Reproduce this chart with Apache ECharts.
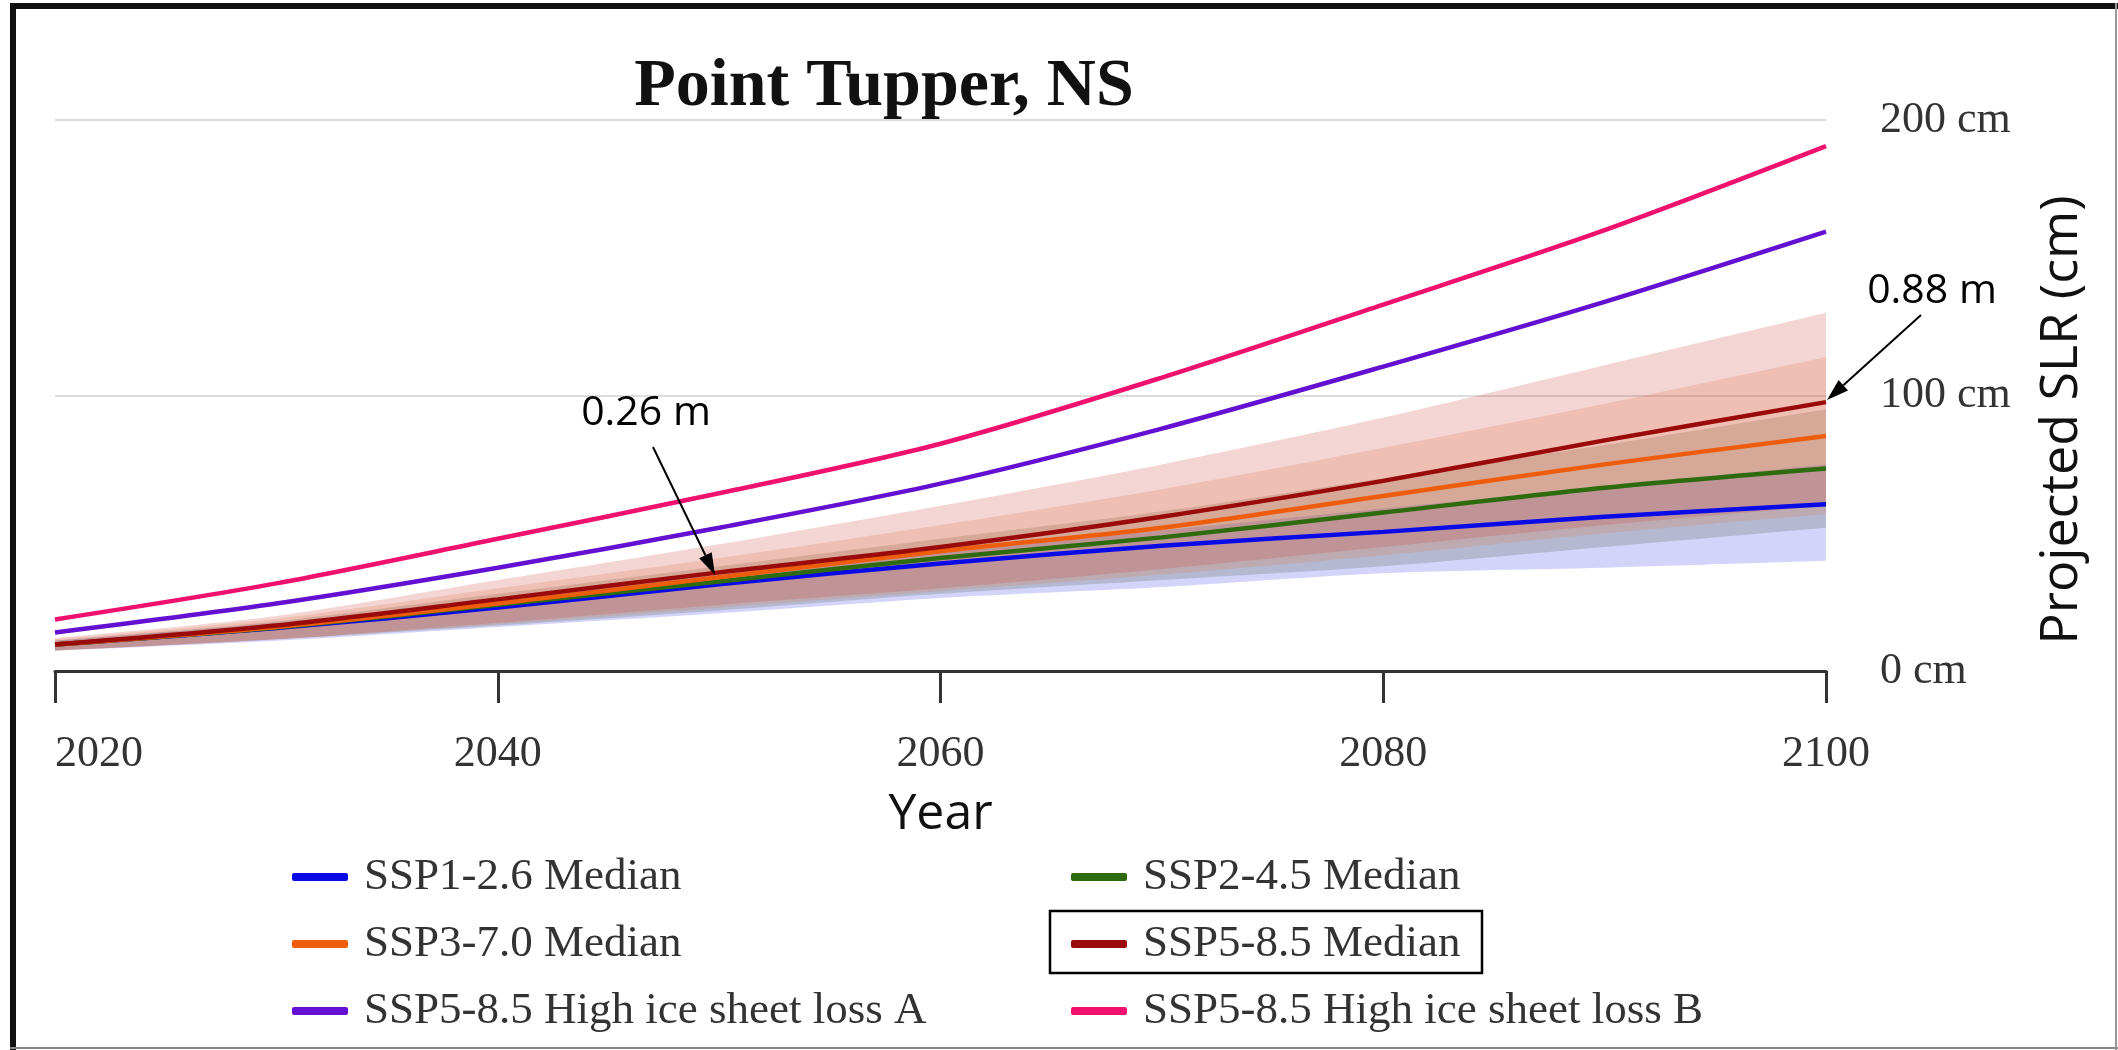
<!DOCTYPE html>
<html>
<head>
<meta charset="utf-8">
<script src="https://cdn.jsdelivr.net/npm/echarts@6/dist/echarts.min.js"></script>
<style>html,body{margin:0;padding:0;background:#fff;}#c{width:2118px;height:1050px;}</style>
</head>
<body>
<div id="c"></div>
<script>
const years = ['2020', '2030', '2040', '2050', '2060', '2070', '2080', '2090', '2100'];
const ssp126 = [9.6, 15.6, 23, 31.5, 39, 45.5, 50.5, 56, 60.5];
const ssp245 = [9.6, 15.8, 24, 32.5, 41, 48.5, 57.5, 66.5, 73.5];
const ssp370 = [9.6, 16, 24.5, 34, 43.5, 52, 63.5, 75, 85.3];
const ssp585 = [9.6, 16.5, 26, 35.8, 45, 56, 69, 83.7, 97.6];
const highA = [14, 24.5, 37.5, 52, 68, 88, 110.5, 134, 159.5];
const highB = [18.7, 31.8, 48, 64.5, 82.5, 106.5, 133, 160, 190.5];

const ssp126Low = [7.4, 11, 16, 21, 26.5, 30.5, 35.5, 37.5, 40];
const ssp126High = [11, 17.5, 26, 35, 43, 51, 59, 67, 75];
const ssp245Low = [7.4, 11.5, 16.5, 22, 28, 33, 38, 45, 52];
const ssp245High = [11, 18, 28, 38, 48, 58, 70, 82, 95];
const ssp370Low = [7.4, 11.5, 17, 23, 29, 35, 42, 50, 57];
const ssp370High = [11.5, 19, 30, 41, 53, 66, 81, 97, 114];
const ssp585Low = [7.4, 11.5, 17.5, 24, 30, 37, 45, 53, 60];
const ssp585High = [12, 20, 33, 46, 60, 75, 92, 111, 130];

const yTicks = [0, 100, 200];
const names = ['SSP1-2.6 Median', 'SSP2-4.5 Median', 'SSP3-7.0 Median', 'SSP5-8.5 Median',
  'SSP5-8.5 High ice sheet loss A', 'SSP5-8.5 High ice sheet loss B'];
const annotations = ['0.26 m', '0.88 m'];
const colors = ['#0a0ae6', '#2e6b0e', '#ee5d0c', '#9b0a0a', '#6410d2', '#f0106e'];
const bandColors = ['rgba(60,60,235,0.22)', 'rgba(70,90,60,0.22)', 'rgba(230,110,50,0.20)', 'rgba(200,70,60,0.22)'];

const diffs = (lo, hi) => lo.map((v, i) => +(hi[i] - v).toFixed(2));

const bands = [[ssp126Low, ssp126High], [ssp245Low, ssp245High], [ssp370Low, ssp370High], [ssp585Low, ssp585High]];
const series = [];
bands.forEach((b, k) => {
  series.push({
    name: 'band' + k + 'lo', type: 'line', stack: 'b' + k, data: b[0],
    smooth: 0.3, symbol: 'none', lineStyle: {width: 0, opacity: 0}, z: 1
  });
  series.push({
    name: 'band' + k + 'hi', type: 'line', stack: 'b' + k, data: diffs(b[0], b[1]),
    smooth: 0.3, symbol: 'none', lineStyle: {width: 0, opacity: 0},
    areaStyle: {color: bandColors[k], opacity: 1}, z: 1
  });
});
const medians = [ssp126, ssp245, ssp370, ssp585, highA, highB];
medians.forEach((arr, i) => {
  series.push({
    name: names[i], type: 'line', data: arr, smooth: 0.3, symbol: 'none',
    color: colors[i], lineStyle: {color: colors[i], width: 4.5}, z: 3 + i
  });
});

function arrow(x1, y1, x2, y2) {
  const dx = x2 - x1, dy = y2 - y1, len = Math.hypot(dx, dy);
  const ux = dx / len, uy = dy / len, hl = 22, hw = 7;
  const bx = x2 - ux * hl, by = y2 - uy * hl;
  return [
    {type: 'line', shape: {x1: x1, y1: y1, x2: bx, y2: by}, style: {stroke: '#000', lineWidth: 2}, z: 50},
    {type: 'polygon', shape: {points: [[x2, y2], [bx - uy * hw, by + ux * hw], [bx + uy * hw, by - ux * hw]]}, style: {fill: '#000'}, z: 50}
  ];
}

const legendText = {fontFamily: 'Liberation Serif', fontSize: 45, color: '#333', lineHeight: 50, padding: [0, 0, 0, 11]};
const option = {
  animation: false,
  backgroundColor: '#fff',
  grid: {left: 55, right: 292, top: 120, bottom: 379},
  xAxis: {
    type: 'category', data: years, boundaryGap: false,
    name: 'Year', nameLocation: 'middle', nameGap: 119,
    nameTextStyle: {fontFamily: 'Open Sans', fontSize: 50, color: '#111'},
    axisLine: {show: true, lineStyle: {color: '#333', width: 3}},
    axisTick: {show: true, interval: 1, length: 32, lineStyle: {color: '#333', width: 3}},
    axisLabel: {interval: 1, fontFamily: 'Liberation Serif', fontSize: 44, color: '#333', margin: 61, alignMinLabel: 'left'},
    splitLine: {show: false}
  },
  yAxis: {
    type: 'value', position: 'right', min: yTicks[0], max: yTicks[2], interval: 100,
    axisLine: {show: false}, axisTick: {show: false},
    axisLabel: {fontFamily: 'Liberation Serif', fontSize: 44, color: '#333', margin: 54, align: 'left', formatter: '{value} cm'},
    splitLine: {show: true, lineStyle: {color: '#dddddd', width: 2}}
  },
  legend: [
    {data: [names[0], names[2], names[4]], orient: 'vertical', left: 287, top: 847, itemGap: 17,
      icon: 'roundRect', itemWidth: 56, itemHeight: 8, textStyle: legendText, selectedMode: false},
    {data: [names[1], names[3], names[5]], orient: 'vertical', left: 1066, top: 847, itemGap: 17,
      icon: 'roundRect', itemWidth: 56, itemHeight: 8, textStyle: legendText, selectedMode: false}
  ],
  series: series,
  graphic: [
    {type: 'text', x: 884, y: 87, style: {text: 'Point Tupper, NS', font: 'bold 68px "Liberation Serif"', fill: '#111', textAlign: 'center', textVerticalAlign: 'middle'}},
    {type: 'text', x: 2062, y: 420, rotation: Math.PI / 2, style: {text: 'Projected SLR (cm)', font: '52px "Open Sans"', fill: '#111', textAlign: 'center', textVerticalAlign: 'middle'}},
    {type: 'text', x: 646, y: 413, style: {text: annotations[0], font: '41px "Open Sans"', fill: '#000', textAlign: 'center', textVerticalAlign: 'middle'}, z: 50},
    {type: 'text', x: 1932, y: 291, style: {text: annotations[1], font: '41px "Open Sans"', fill: '#000', textAlign: 'center', textVerticalAlign: 'middle'}, z: 50},
    ...arrow(653, 447, 715, 575),
    ...arrow(1921, 315, 1827, 400),
    {type: 'rect', shape: {x: 1050, y: 911, width: 432, height: 62}, style: {fill: 'none', stroke: '#000', lineWidth: 2.5}},
    {type: 'line', shape: {x1: 10, y1: 6, x2: 2118, y2: 6}, style: {stroke: '#111', lineWidth: 6}},
    {type: 'line', shape: {x1: 13, y1: 3, x2: 13, y2: 1050}, style: {stroke: '#111', lineWidth: 6}},
    {type: 'line', shape: {x1: 10, y1: 1048, x2: 2118, y2: 1048}, style: {stroke: '#888', lineWidth: 2}},
    {type: 'line', shape: {x1: 2116, y1: 3, x2: 2116, y2: 1050}, style: {stroke: '#999', lineWidth: 2}}
  ]
};
const chart = echarts.init(document.getElementById('c'), null, {renderer: 'canvas'});
chart.setOption(option);
</script>
</body>
</html>
